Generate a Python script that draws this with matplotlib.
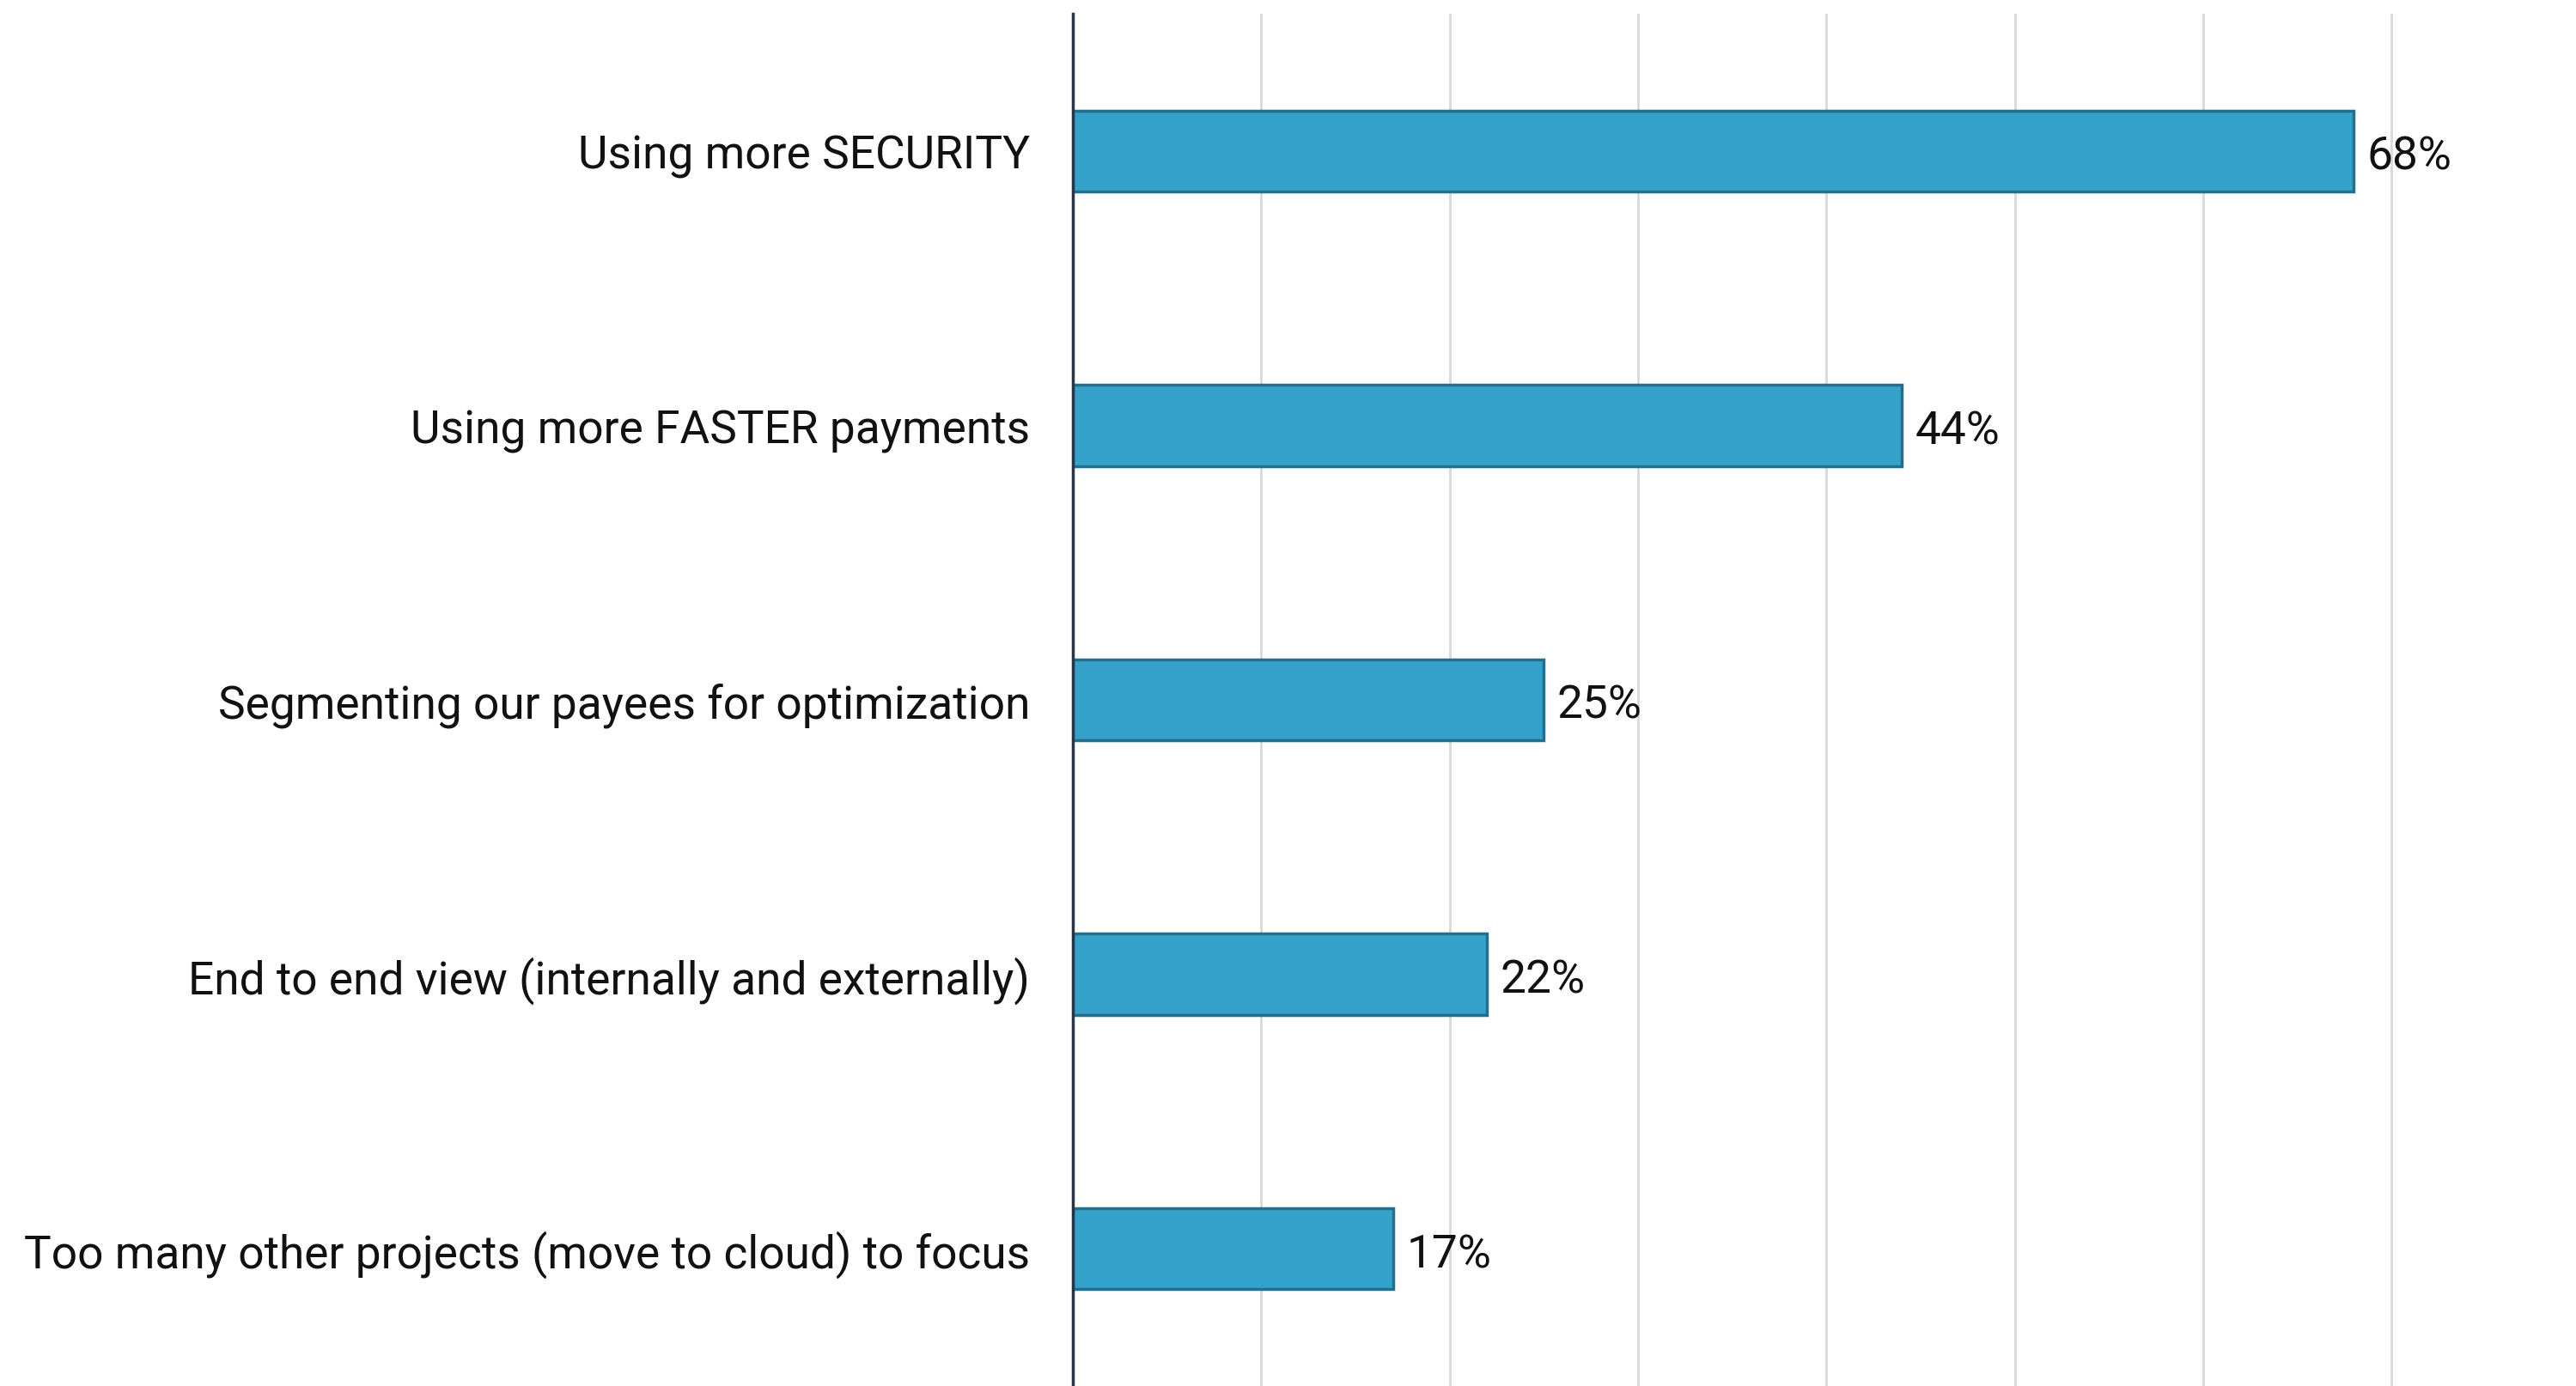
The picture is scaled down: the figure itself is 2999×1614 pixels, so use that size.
import matplotlib
matplotlib.use("Agg")
import matplotlib.pyplot as plt

categories = [
    "Using more SECURITY",
    "Using more FASTER payments",
    "Segmenting our payees for optimization",
    "End to end view (internally and externally)",
    "Too many other projects (move to cloud) to focus",
]
values = [68, 44, 25, 22, 17]
value_labels = ["68%", "44%", "25%", "22%", "17%"]
grid_ticks = [10, 20, 30, 40, 50, 60, 70]

plt.rcParams['font.family'] = ['Roboto', 'DejaVu Sans']

W, H = 2999, 1615
fig = plt.figure(figsize=(W / 100, H / 100), dpi=100)
px_per_unit = 21.93
x0 = 1249
left = x0 / W
right = (x0 + 72 * px_per_unit) / W
bottom = 0.0
top = 1 - 17 / H
ax = fig.add_axes([left, bottom, right - left, top - bottom])

ypos = list(range(len(categories)))
ax.barh(ypos, values, height=0.295, color="#35A2CB", edgecolor="#22708D",
        linewidth=2.5, zorder=3)

ax.set_xlim(0, 72)
ax.set_ylim(len(categories) - 0.5, -0.5)

ax.set_xticks(grid_ticks)
ax.set_xticklabels([])
ax.tick_params(axis="x", length=0)
ax.grid(axis="x", color="#D9D9D9", linewidth=2, zorder=0)

ax.set_yticks(ypos)
ax.set_yticklabels(categories, fontsize=38.3, color="#111111")
ax.tick_params(axis="y", length=0, pad=36)

for s in ["top", "right", "bottom"]:
    ax.spines[s].set_visible(False)
ax.spines["left"].set_color("#2B3445")
ax.spines["left"].set_linewidth(2.5)
ax.spines["left"].set_zorder(4)

for y, v, lab in zip(ypos, values, value_labels):
    ax.text(v + 0.7, y + 0.02, lab, va="center", ha="left", fontsize=38.3,
            color="#111111", clip_on=False)

fig.savefig("out.png", dpi=100)
